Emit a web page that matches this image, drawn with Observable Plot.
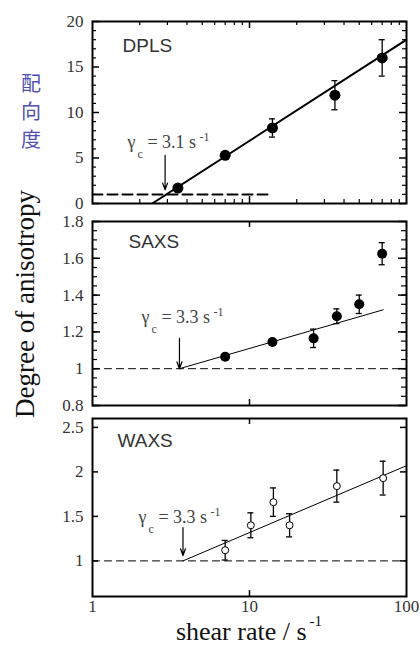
<!DOCTYPE html>
<html><head><meta charset="utf-8">
<script src="https://cdn.jsdelivr.net/npm/d3@7"></script>
<script src="https://cdn.jsdelivr.net/npm/@observablehq/plot@0.6"></script>
<style>
body{margin:0;background:#fff;}
#wrap{position:relative;width:420px;height:648px;overflow:hidden;background:#fff;}
#wrap svg{position:absolute;left:0;}
#ytitle{position:absolute;left:25px;top:304px;transform:translate(-50%,-50%) rotate(-90deg);white-space:nowrap;font:27px "Liberation Serif","Times New Roman",serif;line-height:1;color:#111;}
#jp{position:absolute;left:20px;top:69px;width:22px;text-align:center;font:20px "Noto Sans CJK JP",sans-serif;line-height:28px;color:#5050b0;}
#xtitle{position:absolute;left:0;width:498px;top:619px;text-align:center;white-space:nowrap;font:26px "Liberation Serif","Times New Roman",serif;line-height:1;color:#111;}
#xtitle span{font-size:15px;position:relative;top:-14px;margin-left:3px;}
</style></head><body><div id="wrap">
<div id="ytitle">Degree of anisotropy</div>
<div id="jp">配<br>向<br>度</div>
<div id="xtitle">shear rate / s<span>-1</span></div>
</div>
<script>
// ---- data ----
const dplsRate  = [3.5, 7, 14, 35, 70];
const dplsValue = [1.7, 5.3, 8.3, 11.9, 16.0];
const dplsErr   = [0, 0, 1.0, 1.6, 2.0];
const dplsFitRate  = [2.4, 100];
const dplsFitValue = [0, 18];
const dplsBaseRate = [1, 14];
const dplsBaseValue = [1, 1];
const dplsCritical = {x: 2.9, y1: 5.3, y2: 1.5, lx: 1.67, ly: 6.15, value: "3.1"};

const saxsRate  = [7, 14, 25.6, 36, 50, 70];
const saxsValue = [1.065, 1.145, 1.165, 1.285, 1.35, 1.625];
const saxsErr   = [0, 0.015, 0.05, 0.04, 0.05, 0.06];
const saxsFitRate  = [3.58, 71];
const saxsFitValue = [1.0, 1.32];
const saxsBaseRate = [1, 100];
const saxsBaseValue = [1, 1];
const saxsCritical = {x: 3.58, y1: 1.165, y2: 1.0, lx: 2.05, ly: 1.246, value: "3.3"};

const waxsRate  = [7, 10.2, 14.2, 18, 36, 71];
const waxsValue = [1.12, 1.4, 1.66, 1.4, 1.84, 1.93];
const waxsErr   = [0.11, 0.14, 0.16, 0.13, 0.18, 0.19];
const waxsFitRate  = [3.77, 100];
const waxsFitValue = [1.0, 2.07];
const waxsBaseRate = [1, 100];
const waxsBaseValue = [1, 1];
const waxsCritical = {x: 3.77, y1: 1.375, y2: 1.06, lx: 1.96, ly: 1.43, value: "3.3"};

const xTickLabels = [1, 10, 100];
const logMinor = [2,3,4,5,6,7,8,9,20,30,40,50,60,70,80,90];
const logMajor = [10];
const dplsYMajor = [0, 5, 10, 15, 20];
const saxsYMajor = [0.8, 1, 1.2, 1.4, 1.6, 1.8];
const waxsYMajor = [1, 1.5, 2, 2.5];

// ---- helpers ----
const SERIF = "'Liberation Serif', 'Times New Roman', Times, serif";
const SANS = "'Liberation Sans', Arial, sans-serif";
const zip = (r, v, e) => r.map((x, i) => ({rate: x, value: v[i], err: e ? e[i] : 0}));
const W = 420, ML = 92, MR = 14, innerW = W - ML - MR;
const capF = 1.045;
const wrap = document.getElementById("wrap");

function yTicks(values, len, sw) {
  return [
    Plot.tickY(values, {y: d => d, insetRight: innerW - len, stroke: "#000", strokeWidth: sw}),
    Plot.tickY(values, {y: d => d, insetLeft: innerW - len, stroke: "#000", strokeWidth: sw})
  ];
}
function xTicks(values, len, innerH, sw) {
  return [
    Plot.tickX(values, {x: d => d, insetBottom: innerH - len, stroke: "#000", strokeWidth: sw}),
    Plot.tickX(values, {x: d => d, insetTop: innerH - len, stroke: "#000", strokeWidth: sw})
  ];
}
function errorBars(data, sw) {
  const d = data.filter(p => p.err > 0);
  return [
    Plot.ruleX(d, {x: "rate", y1: p => p.value - p.err, y2: p => p.value + p.err, stroke: "#000", strokeWidth: sw}),
    Plot.ruleY(d, {y: p => p.value + p.err, x1: p => p.rate / capF, x2: p => p.rate * capF, stroke: "#000", strokeWidth: sw}),
    Plot.ruleY(d, {y: p => p.value - p.err, x1: p => p.rate / capF, x2: p => p.rate * capF, stroke: "#000", strokeWidth: sw})
  ];
}
function critical(c) {
  const base = {x: "lx", y: "ly", textAnchor: "start", lineAnchor: "bottom", fill: "#444", fontFamily: SERIF};
  return [
    Plot.arrow([c], {x: "x", y1: "y1", y2: "y2", stroke: "#000", strokeWidth: 1.2, headLength: 9, headAngle: 40}),
    Plot.text([c], {...base, text: () => "γ", fontSize: 18}),
    Plot.text([c], {...base, text: () => "c", fontSize: 12, dx: 10, dy: 10}),
    Plot.text([c], {...base, text: d => "= " + d.value + " s", fontSize: 18, dx: 20}),
    Plot.text([c], {...base, text: () => "-1", fontSize: 12, dx: 72, dy: -7})
  ];
}
function label(t, dx, dy) {
  return Plot.text([t], {text: d => d, frameAnchor: "top-left", dx, dy, textAnchor: "start", lineAnchor: "top",
    fontSize: 19, fontFamily: SANS, fill: "#333"});
}
function yAxis(values) {
  return Plot.axisY(values, {anchor: "left", tickSize: 0, tickPadding: 9, fontSize: 17, fontFamily: SERIF,
    fill: "#333", label: null, tickFormat: d => String(d)});
}
function panel(top, height, mt, mb, yDomain, marks, xAxisNull = true) {
  const svg = Plot.plot({
    width: W, height, marginLeft: ML, marginRight: MR, marginTop: mt, marginBottom: mb,
    x: {type: "log", domain: [1, 100], ...(xAxisNull ? {axis: null} : {})},
    y: {domain: yDomain},
    style: {fontFamily: SERIF, background: "transparent", overflow: "visible"},
    marks
  });
  svg.style.top = top + "px";
  wrap.appendChild(svg);
}

// ---- panel 1: DPLS ----
const dpls = zip(dplsRate, dplsValue, dplsErr);
const h1 = 210 - 21 - 7;
panel(0, 210, 21, 7, [0, 20], [
  yAxis(dplsYMajor),
  ...yTicks(d3.range(0, 21).filter(v => v % 5), 4, 1.2),
  ...yTicks(dplsYMajor, 7, 1.5),
  ...xTicks(logMinor, 4, h1, 1.2),
  ...xTicks(logMajor, 7, h1, 1.5),
  Plot.line(zip(dplsBaseRate, dplsBaseValue), {x: "rate", y: "value", stroke: "#000", strokeWidth: 2, strokeDasharray: "10,5", clip: true}),
  Plot.line(zip(dplsFitRate, dplsFitValue), {x: "rate", y: "value", stroke: "#000", strokeWidth: 2, clip: true}),
  ...errorBars(dpls, 1.3),
  Plot.dot(dpls, {x: "rate", y: "value", r: 5.5, fill: "#000"}),
  ...critical(dplsCritical),
  label("DPLS", 30, 17),
  Plot.frame({stroke: "#000", strokeWidth: 2})
]);

// ---- panel 2: SAXS ----
const saxs = zip(saxsRate, saxsValue, saxsErr);
const h2 = 200 - 11 - 5;
panel(210, 200, 11, 5, [0.8, 1.8], [
  yAxis(saxsYMajor),
  ...yTicks(d3.range(0, 21).map(i => 0.8 + i * 0.05), 5, 1.2),
  ...yTicks(saxsYMajor, 8, 1.5),
  ...xTicks(logMajor, 6, h2, 1.5),
  Plot.line(zip(saxsBaseRate, saxsBaseValue), {x: "rate", y: "value", stroke: "#000", strokeWidth: 1, strokeDasharray: "7,5"}),
  Plot.line(zip(saxsFitRate, saxsFitValue), {x: "rate", y: "value", stroke: "#000", strokeWidth: 1}),
  ...errorBars(saxs, 1.3),
  Plot.dot(saxs, {x: "rate", y: "value", r: 5, fill: "#000"}),
  ...critical(saxsCritical),
  label("SAXS", 36, 13),
  Plot.frame({stroke: "#000", strokeWidth: 2})
]);

// ---- panel 3: WAXS ----
const waxs = zip(waxsRate, waxsValue, waxsErr);
const h3 = 238 - 8 - 52;
panel(410, 238, 8, 52, [0.6, 2.6], [
  yAxis(waxsYMajor),
  ...yTicks(waxsYMajor, 6, 1.5),
  ...xTicks(logMajor, 6, h3, 1.5),
  Plot.axisX(xTickLabels, {anchor: "bottom", tickSize: 0, tickPadding: 3, fontSize: 17, fontFamily: SERIF,
    fill: "#333", label: null, tickFormat: d => String(d)}),
  Plot.line(zip(waxsBaseRate, waxsBaseValue), {x: "rate", y: "value", stroke: "#000", strokeWidth: 1, strokeDasharray: "7,5"}),
  Plot.line(zip(waxsFitRate, waxsFitValue), {x: "rate", y: "value", stroke: "#000", strokeWidth: 1}),
  ...errorBars(waxs, 1.3),
  Plot.dot(waxs, {x: "rate", y: "value", r: 3.5, fill: "#fff", stroke: "#000", strokeWidth: 1}),
  ...critical(waxsCritical),
  label("WAXS", 25, 15),
  Plot.frame({stroke: "#000", strokeWidth: 2})
], false);
</script>
</body></html>
